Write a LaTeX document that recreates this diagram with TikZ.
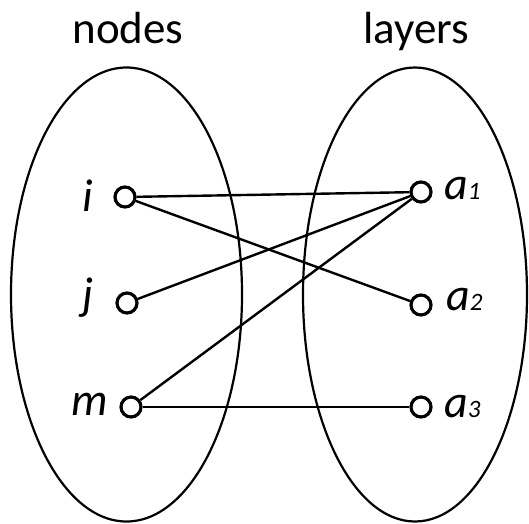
\documentclass[tikz,border=0pt]{standalone}
\usepackage{fontspec}
\setmainfont{Carlito}
\begin{document}
\begin{tikzpicture}[x=1pt,y=-1pt,
  vert/.style={circle,draw,line width=3.2pt,minimum size=20pt,inner sep=0pt,fill=white},
  lab/.style={inner sep=0pt,font=\fontsize{46}{52}\selectfont\itshape},
  head/.style={inner sep=0pt,font=\fontsize{45}{52}\selectfont},
  edge/.style={line width=2.4pt}]
\useasboundingbox (0,0) rectangle (529,523);
% sets
\draw[line width=2.2pt] (126.5,294.5) ellipse [x radius=115.5, y radius=227];
\draw[line width=2.2pt] (415,294.5) ellipse [x radius=112, y radius=227];
% headings
\node[head,anchor=base] (hn) at (128,43) {nodes};
\node[head,anchor=base] (hl) at (416,43) {layers};
% vertices
\node[vert] (i) at (125,197) {};
\node[vert] (j) at (127,303) {};
\node[vert] (m) at (131,407) {};
\node[vert] (a1) at (421,192) {};
\node[vert] (a2) at (421,305) {};
\node[vert] (a3) at (421,407) {};
% labels
\node[lab,anchor=base] (li) at (88,211) {i};
\node[lab,anchor=base] (lj) at (88,309) {j};
\node[lab,anchor=base] (lm) at (90,415) {m};
\newcommand{\subs}[1]{{\fontsize{25}{28}\selectfont #1}}
\node[lab,anchor=base west] (la1) at (444,199) {a\subs{1}};
\node[lab,anchor=base west] (la2) at (446,310) {a\subs{2}};
\node[lab,anchor=base west] (la3) at (444,417) {a\subs{3}};
% edges
\draw[edge] (i) -- (a1);
\draw[edge] (i) -- (a2);
\draw[edge] (j) -- (a1);
\draw[edge] (m) -- (a1);
\draw[edge] (m) -- (a3);
\end{tikzpicture}
\end{document}
